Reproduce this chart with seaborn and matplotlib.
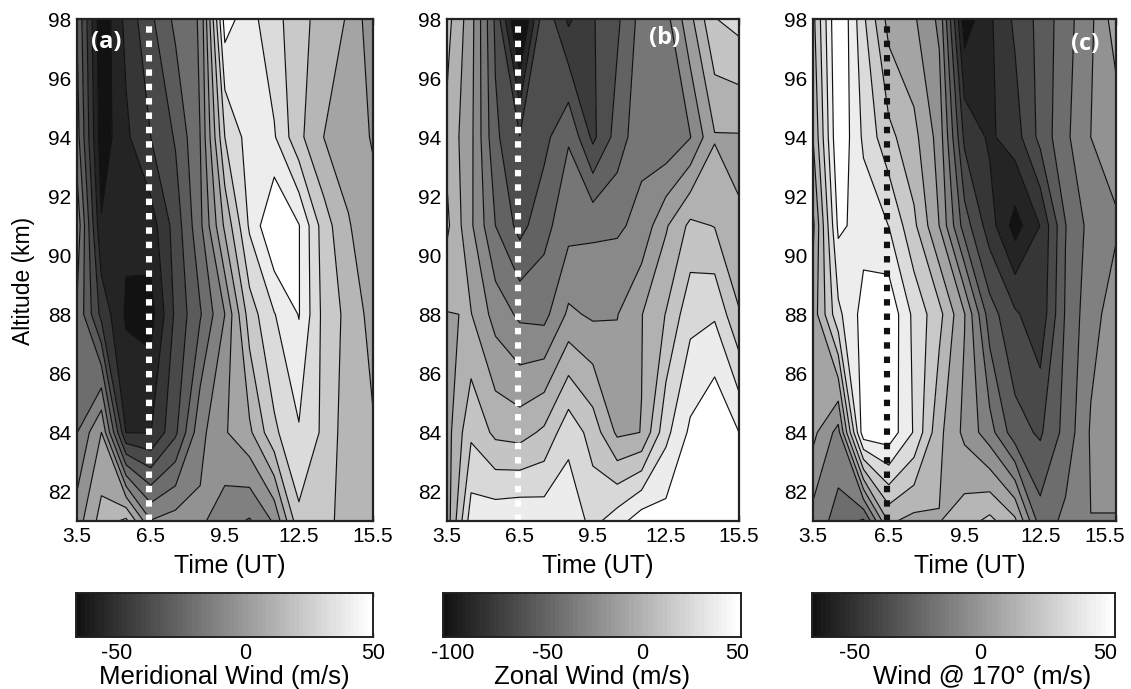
import matplotlib
matplotlib.use('Agg')
import matplotlib.pyplot as plt
from matplotlib.transforms import ScaledTranslation
import seaborn as sns
import numpy as np

# hourly time grid and the (uneven) altitude bins, top row first
times = [3.5, 4.5, 5.5, 6.5, 7.5, 8.5, 9.5, 10.5, 11.5, 12.5, 13.5, 14.5, 15.5]
altitudes = [98, 94, 91, 88, 84, 81]

meridional = [
    [-40, -88, -67, -52, -37.5, -29, 45, 33.4, 23.7, 13.5, 5.8, -1, -17],
    [-35, -86, -72, -60, -49, -30, 20, 34.7, 31, 12.5, 0, -4, -11],
    [-22, -79, -78, -75, -55.7, -32.5, 2, 31.6, 51, 40.5, 15, 0.7, -6],
    [-31, -63, -81.5, -84, -58, -41, -20, 15, 29.5, 40.5, 17, 7, -4],
    [-30.5, -10, -70.3, -70.3, -52, -23, -11, -2, 18, 29, 18, 4, 1],
    [-15, 4, 12.5, -19.5, -15.5, -18, -26, -31, -18.6, 17.5, 12, 7.4, 6],
]
zonal = [
    [5, -20, -65, -121, -65, -90, -76, -65, -45, -42, -16, 12, 17],
    [-3, -22, -60, -74.5, -66.5, -51, -78, -57, -41, -47.6, -38, -13.5, -13.5],
    [3, -23, -50, -66.8, -54, -42, -40, -39.5, -34, -14, 3, -0.5, -12],
    [-13, -12, -30, -40, -41.6, -22.6, -27, -25.5, -13, 0.5, 21, 23.4, 1],
    [-18, 10, -3, -5, 2.4, 21, 7.3, -15, -12.3, 21.4, 40, 50, 37.5],
    [-20, 32, 34, 36, 33.5, 34, 21, 32, 45, 43, 55, 58, 48],
]
wind170 = [
    [30.5, 73.3, 44.8, 20.4, 15.8, 3, -57.5, -44.2, -31.1, -20.6, -8.5, 3, 19.7],
    [24.1, 71.1, 50.7, 36.3, 26.8, 10.8, -35.3, -44.1, -37.6, -20.6, -6.6, 5, 8.5],
    [12.3, 64, 58.3, 52.4, 35.6, 14.4, -18.8, -38, -56.1, -42.3, -14.3, -1, 4],
    [18.4, 50.1, 65.7, 69.8, 49.9, 36.5, 15, -19.2, -31.4, -39.8, -13, 2, 9],
    [17.1, 1.7, 68.7, 68.3, 51.6, 26.4, 12.1, -0.6, -19.8, -24.9, -10.7, 6, 9],
    [1.4, -8.2, -15.8, 25.5, 21.1, 23.6, 29.3, 36.1, 26.1, -9.7, -2.2, 4.9, 4.6],
]

# contour levels read by counting the bands in each panel
levels_a = [-80, -70, -60, -50, -40, -30, -20, -10, 0, 10, 20, 30, 40]
levels_b = [-100, -87.5, -75, -62.5, -50, -37.5, -25, -12.5, 0, 12.5, 25, 37.5]
levels_c = [-52, -42.5, -33, -23.5, -14, -4.5, 5, 14.5, 24, 33.5, 43, 52.5, 62]

time_ticks = [3.5, 6.5, 9.5, 12.5, 15.5]
alt_ticks = [82, 84, 86, 88, 90, 92, 94, 96, 98]

W, H = 1131, 689

sns.set_theme(style='ticks')
plt.rcParams['font.family'] = ['Liberation Sans', 'DejaVu Sans']
plt.rcParams['text.color'] = 'black'
plt.rcParams['axes.labelcolor'] = 'black'
plt.rcParams['xtick.labelcolor'] = 'black'
plt.rcParams['ytick.labelcolor'] = 'black'
gray = sns.color_palette('gray', as_cmap=True)


def px_axes(fig, left, top, right, bottom):
    return fig.add_axes([left / W, 1 - bottom / H, (right - left) / W, (bottom - top) / H])


def draw_panel(ax, field, levels, tag, tag_xy, line_color):
    z = np.array(field)
    n = len(levels) + 1
    colors = gray(np.linspace(1 / n, 1, n))
    edges = [-1000] + levels + [1000]
    ax.contourf(times, altitudes, z, levels=edges, colors=colors)
    ax.contour(times, altitudes, z, levels=levels, colors='#111111', linewidths=0.85,
               linestyles='solid')
    ax.plot([6.44, 6.44], [81, 98], color=line_color, lw=4.4,
            linestyle=(0, (1.05, 1.3)), dash_capstyle='butt')
    ax.set_xlim(3.5, 15.5)
    ax.set_ylim(81, 98)
    ax.set_xticks(time_ticks)
    ax.set_xticklabels([str(t) for t in time_ticks])
    ax.set_yticks(alt_ticks)
    ax.tick_params(direction='in', top=True, right=True, length=4.5, width=1,
                   labelsize=15, pad=4, color='#222222')
    ax.set_xlabel('Time (UT)', fontsize=18, labelpad=6)
    ax.xaxis.label.set_x(0.517)
    for s in ax.spines.values():
        s.set_linewidth(1.6)
        s.set_color('#222222')
    ax.text(tag_xy[0], tag_xy[1], tag, transform=ax.transAxes, color='white', fontsize=17,
            fontweight='bold', family='Open Sans', ha='center', va='center')


def draw_bar(ax, vmin, vmax, ticks, label):
    ramp = np.linspace(vmin, vmax, 64).reshape(1, -1)
    sns.heatmap(ramp, ax=ax, cmap=gray, vmin=vmin - (vmax - vmin) * 0.08, vmax=vmax, cbar=False,
                xticklabels=False, yticklabels=False)
    ax.set_xticks([(t - vmin) / (vmax - vmin) * 64 for t in ticks])
    ax.set_xticklabels([str(t) for t in ticks])
    ax.set_yticks([])
    ax.tick_params(direction='in', top=True, bottom=True, length=3, width=1, labelsize=15.5, pad=4,
                   rotation=0, color='#222222')
    ax.set_xlabel(label, fontsize=18.5, labelpad=1)
    for s in ax.spines.values():
        s.set_visible(True)
        s.set_linewidth(1.4)
        s.set_color('#222222')


fig = plt.figure(figsize=(W / 100, H / 100), dpi=100)

ax_a = px_axes(fig, 76.7, 19, 373, 521)
ax_b = px_axes(fig, 446.7, 19, 739, 521)
ax_c = px_axes(fig, 813, 19, 1116, 521)

draw_panel(ax_a, meridional, levels_a, '(a)', (0.10, 0.954), 'white')
draw_panel(ax_b, zonal, levels_b, '(b)', (0.744, 0.962), 'white')
draw_panel(ax_c, wind170, levels_c, '(c)', (0.898, 0.95), '#111111')
ax_a.set_ylabel('Altitude (km)', fontsize=16.5, labelpad=9)
ax_a.yaxis.label.set_y(0.478)

# the last label of panel (c) sits against the figure edge
last = ax_c.get_xticklabels()[-1]
last.set_transform(last.get_transform() + ScaledTranslation(-8 / 72, 0, fig.dpi_scale_trans))

cb_a = px_axes(fig, 76, 593, 373, 637)
cb_b = px_axes(fig, 443, 593, 741, 637)
cb_c = px_axes(fig, 812, 593, 1115, 637)

draw_bar(cb_a, -66, 50, [-50, 0, 50], 'Meridional Wind (m/s)')
draw_bar(cb_b, -105, 52, [-100, -50, 0, 50], 'Zonal Wind (m/s)')
draw_bar(cb_c, -67, 54, [-50, 0, 50], 'Wind @ 170\u00b0 (m/s)')
cb_c.xaxis.label.set_x(0.56)

fig.savefig('out.png', dpi=100)
